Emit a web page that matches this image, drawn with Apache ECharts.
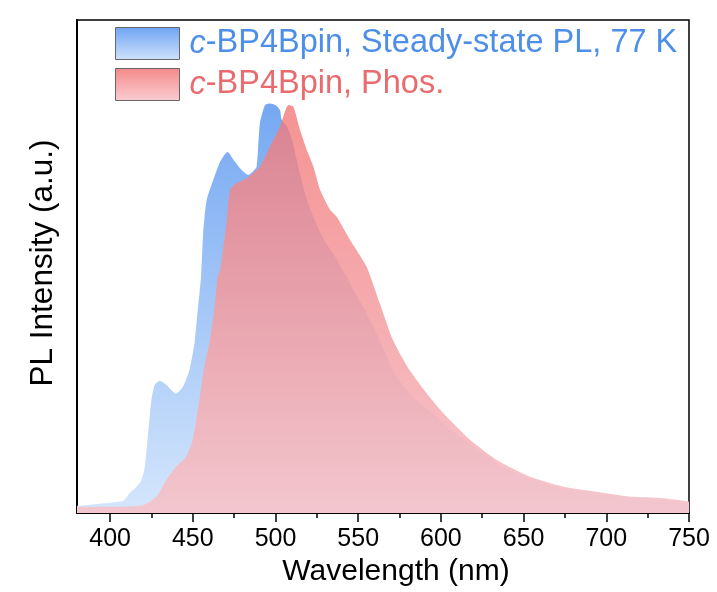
<!DOCTYPE html>
<html>
<head>
<meta charset="utf-8">
<script src="https://cdn.jsdelivr.net/npm/echarts@6/dist/echarts.min.js"></script>
<style>
  html, body { margin: 0; padding: 0; background: #fff; }
  #main { width: 717px; height: 592px; }
</style>
</head>
<body>
<div id="main"></div>
<script>
// steady-state PL at 77 K (blue)
const plWavelength = [380, 390, 400, 408, 412, 416, 419, 421, 423, 425, 427, 430, 434, 437, 440, 444, 448, 451, 453, 455,
  456.4, 458.4, 462.4, 466.5, 471, 475.5, 479.5, 483.6, 486, 488.6, 490.6, 493.7, 496.7, 500, 502.7, 503.8, 507, 510,
  515, 519, 525, 530, 535, 543, 547, 553, 563, 573, 585, 600, 610, 620, 635, 650, 670, 690, 710, 730, 750];
const plIntensity = [0.017, 0.021, 0.025, 0.030, 0.049, 0.064, 0.080, 0.113, 0.195, 0.275, 0.312, 0.322, 0.312, 0.299, 0.291, 0.307, 0.348, 0.413, 0.494, 0.575,
  0.689, 0.762, 0.811, 0.855, 0.879, 0.855, 0.835, 0.823, 0.830, 0.843, 0.949, 0.993, 0.997, 0.993, 0.981, 0.957, 0.940, 0.908,
  0.823, 0.762, 0.701, 0.660, 0.630, 0.575, 0.543, 0.502, 0.421, 0.332, 0.275, 0.226, 0.190, 0.161, 0.117, 0.090, 0.063, 0.049, 0.039, 0.032, 0.024];

// phosphorescence (red)
const phosWavelength = [380, 400, 420, 428, 434, 440, 446, 450, 454, 457, 460, 463, 465, 466.5, 470.4, 472.5, 476.5, 482.5,
  490.6, 496.7, 502.7, 507.8, 510.8, 514.8, 518.9, 523, 527, 533, 537, 545, 555, 563, 571, 581, 593, 603.5, 617.6,
  633.7, 654, 674, 694, 714, 734.5, 750];
const phosIntensity = [0.015, 0.015, 0.019, 0.040, 0.080, 0.113, 0.137, 0.178, 0.275, 0.356, 0.413, 0.494, 0.575, 0.591, 0.706, 0.786, 0.803, 0.815,
  0.843, 0.892, 0.940, 0.993, 0.989, 0.933, 0.884, 0.842, 0.786, 0.738, 0.721, 0.665, 0.600, 0.511, 0.421, 0.348, 0.283, 0.234, 0.178,
  0.129, 0.088, 0.064, 0.052, 0.040, 0.036, 0.028];

const majorTicks = [400, 450, 500, 550, 600, 650, 700, 750];
const minorTicks = [425, 475, 525, 575, 625, 675, 725];

const plName = 'c-BP4Bpin, Steady-state PL, 77 K';
const phosName = 'c-BP4Bpin, Phos.';

const font = '"Liberation Sans", Arial, sans-serif';

function zip(xs, ys) {
  return xs.map((x, i) => [x, ys[i]]);
}

function vGrad(top, bottom) {
  return new echarts.graphic.LinearGradient(0, 0, 0, 1, [
    { offset: 0, color: top },
    { offset: 1, color: bottom }
  ]);
}

const myChart = echarts.init(document.getElementById('main'));

const option = {
  animation: false,
  backgroundColor: '#fff',
  grid: {
    left: 77,
    right: 28,
    top: 20,
    bottom: 79,
    show: true,
    borderColor: '#000',
    borderWidth: 1.5,
    backgroundColor: 'transparent'
  },
  legend: {
    orient: 'vertical',
    left: 115,
    top: 27,
    padding: 0,
    itemWidth: 64,
    itemHeight: 32,
    itemGap: 8,
    selectedMode: false,
    icon: 'rect',
    formatter: function(name) {
      const key = name === plName ? 'b' : 'r';
      return '{' + key + 'i|c}{' + key + '|' + name.slice(1) + '}';
    },
    textStyle: {
      fontFamily: font,
      fontSize: 32.5,
      rich: {
        bi: { color: '#4d8fe8', fontStyle: 'italic', fontSize: 32.5, fontFamily: font, padding: [0, 0, 0, 5] },
        b: { color: '#4d8fe8', fontSize: 32.5, fontFamily: font },
        ri: { color: '#ea6b6e', fontStyle: 'italic', fontSize: 32.5, fontFamily: font, padding: [0, 0, 0, 5] },
        r: { color: '#ea6b6e', fontSize: 32.5, fontFamily: font }
      }
    },
    data: [
      {
        name: plName,
        itemStyle: { color: vGrad('#6ea4f2', '#cfe2fb'), borderColor: '#666', borderWidth: 1 }
      },
      {
        name: phosName,
        itemStyle: { color: vGrad('#f58a8a', '#f9cdd2'), borderColor: '#666', borderWidth: 1 }
      }
    ]
  },
  xAxis: [
    {
      type: 'value',
      min: 380,
      max: 750,
      name: 'Wavelength (nm)',
      nameLocation: 'middle',
      nameGap: 41,
      nameTextStyle: { fontFamily: font, fontSize: 30, color: '#000', padding: [0, 0, 0, 26] },
      axisLine: { show: true, onZero: false, lineStyle: { color: '#000', width: 2 } },
      axisTick: { show: true, inside: false, length: 9, customValues: majorTicks, lineStyle: { color: '#000', width: 1.5 } },
      axisLabel: { show: true, customValues: majorTicks, margin: 14, fontFamily: font, fontSize: 25, color: '#000' },
      splitLine: { show: false }
    },
    {
      // minor ticks only
      type: 'value',
      min: 380,
      max: 750,
      position: 'bottom',
      axisLine: { show: false },
      axisTick: { show: true, inside: false, length: 5, customValues: minorTicks, lineStyle: { color: '#000', width: 1.5 } },
      axisLabel: { show: false },
      splitLine: { show: false }
    }
  ],
  yAxis: {
    type: 'value',
    min: 0,
    max: 1.2,
    name: 'PL Intensity (a.u.)',
    nameLocation: 'middle',
    nameRotate: 90,
    nameGap: 18,
    nameTextStyle: { fontFamily: font, fontSize: 31.5, color: '#000', padding: [0, 0, 0, 7] },
    axisLine: { show: true, onZero: false, lineStyle: { color: '#000', width: 2 } },
    axisTick: { show: false },
    axisLabel: { show: false },
    splitLine: { show: false }
  },
  series: [
    {
      name: plName,
      type: 'line',
      xAxisIndex: 0,
      data: zip(plWavelength, plIntensity),
      showSymbol: false,
      smooth: 0.2,
      lineStyle: { width: 0 },
      itemStyle: { color: '#6ea4f2' },
      areaStyle: { color: vGrad('rgb(117,168,242)', 'rgb(212,230,252)'), opacity: 1 },
      z: 2
    },
    {
      name: phosName,
      type: 'line',
      xAxisIndex: 0,
      data: zip(phosWavelength, phosIntensity),
      showSymbol: false,
      smooth: 0.2,
      lineStyle: { width: 0 },
      itemStyle: { color: '#f58a8a' },
      areaStyle: { color: vGrad('rgba(242,119,119,0.79)', 'rgba(245,196,203,0.93)'), opacity: 1 },
      z: 3
    }
  ]
};

myChart.setOption(option);
</script>
</body>
</html>
